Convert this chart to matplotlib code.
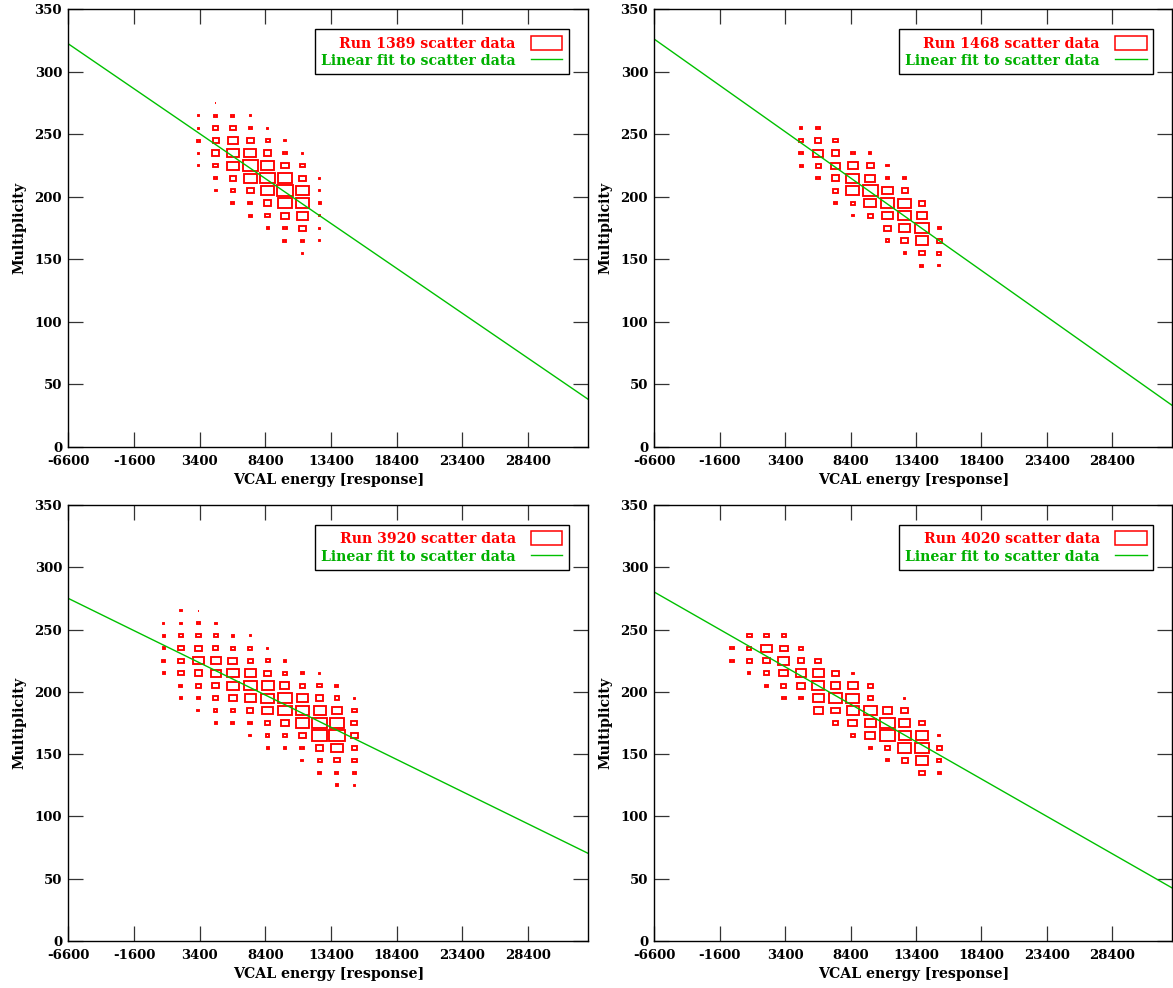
"""Multiplicity vs VCAL energy scatter (box) plots with linear fits, four runs."""

import matplotlib
matplotlib.use("Agg")
import matplotlib.pyplot as plt
from matplotlib.lines import Line2D
from matplotlib.patches import Patch, Rectangle

# bin centres shared by all runs (x: VCAL energy, y: multiplicity)
X_CENTRES = [-660, 660, 1980, 3300, 4620, 5940, 7260, 8580, 9900, 11220, 12540, 13860, 15180]
Y_CENTRES = [275, 265, 255, 245, 235, 225, 215, 205, 195, 185, 175, 165, 155, 145, 135, 125]
X_BIN = 1320
Y_BIN = 10

RUNS = [1389, 1468, 3920, 4020]

# relative box size per cell (0..10), rows follow Y_CENTRES, columns X_CENTRES
RUN_1389 = [
    [0, 0, 0, 0, .5, .5, 0, 0, 0, 0, 0, 0, 0],
    [0, 0, 0, 1, 2, 2, 1, 0, 0, 0, 0, 0, 0],
    [0, 0, 0, 1, 3, 3.5, 2, 1, 0, 0, 0, 0, 0],
    [0, 0, 0, 2, 4, 6.5, 4.5, 2.5, 1, 0, 0, 0, 0],
    [0, 0, 0, 1, 5, 8, 8, 5, 2.5, 1, 0, 0, 0],
    [0, 0, 0, 1, 3, 7.5, 10, 8.5, 5, 3, 0, 0, 0],
    [0, 0, 0, 0, 2, 4.5, 8.5, 9.5, 9, 4.5, 1, 0, 0],
    [0, 0, 0, 0, 1.5, 2.5, 5, 9, 10, 8.5, 1, 0, 0],
    [0, 0, 0, 0, 0, 2, 2.5, 5, 9, 9, 1.5, 0, 0],
    [0, 0, 0, 0, 0, 0, 2, 3, 5.5, 7.5, 1, 0, 0],
    [0, 0, 0, 0, 0, 0, 0, 1.5, 2.5, 4.5, 1, 0, 0],
    [0, 0, 0, 0, 0, 0, 0, 0, 2, 2, 1, 0, 0],
    [0, 0, 0, 0, 0, 0, 0, 0, 0, 1, 0, 0, 0],
    [0, 0, 0, 0, 0, 0, 0, 0, 0, 0, 0, 0, 0],
    [0, 0, 0, 0, 0, 0, 0, 0, 0, 0, 0, 0, 0],
    [0, 0, 0, 0, 0, 0, 0, 0, 0, 0, 0, 0, 0],
]

RUN_1468 = [
    [0, 0, 0, 0, 0, 0, 0, 0, 0, 0, 0, 0, 0],
    [0, 0, 0, 0, 0, 0, 0, 0, 0, 0, 0, 0, 0],
    [0, 0, 0, 0, 1.5, 2.5, 0, 0, 0, 0, 0, 0, 0],
    [0, 0, 0, 0, 3, 4, 3, 0, 0, 0, 0, 0, 0],
    [0, 0, 0, 0, 2.5, 6.5, 5, 2.5, 1.5, 0, 0, 0, 0],
    [0, 0, 0, 0, 2, 3.5, 5.5, 7, 4.5, 1.5, 0, 0, 0],
    [0, 0, 0, 0, 0, 2.5, 5, 8.5, 6.5, 2.5, 2, 0, 0],
    [0, 0, 0, 0, 0, 0, 3.5, 8.5, 10, 7, 4, 0, 0],
    [0, 0, 0, 0, 0, 0, 2, 3, 8, 9, 8.5, 4.5, 0],
    [0, 0, 0, 0, 0, 0, 0, 1, 3.5, 7, 8.5, 6.5, 0],
    [0, 0, 0, 0, 0, 0, 0, 0, 0, 4.5, 7.5, 9, 2],
    [0, 0, 0, 0, 0, 0, 0, 0, 0, 2.5, 4.5, 8.5, 3.5],
    [0, 0, 0, 0, 0, 0, 0, 0, 0, 0, 1.5, 4, 3],
    [0, 0, 0, 0, 0, 0, 0, 0, 0, 0, 0, 2, 1.5],
    [0, 0, 0, 0, 0, 0, 0, 0, 0, 0, 0, 0, 0],
    [0, 0, 0, 0, 0, 0, 0, 0, 0, 0, 0, 0, 0],
]

RUN_3920 = [
    [0, 0, 0, 0, 0, 0, 0, 0, 0, 0, 0, 0, 0],
    [0, 0, 1, .5, 0, 0, 0, 0, 0, 0, 0, 0, 0],
    [0, 1, 1.5, 2, 1.5, 0, 0, 0, 0, 0, 0, 0, 0],
    [0, 1.5, 2.5, 3, 2.5, 1.5, 1, 0, 0, 0, 0, 0, 0],
    [0, 1.5, 4, 5, 3.5, 3, 2.5, 1, 0, 0, 0, 0, 0],
    [0, 2, 4, 7, 6.5, 6, 3.5, 2.5, 1.5, 0, 0, 0, 0],
    [0, 1.5, 3.5, 5, 6.5, 7.5, 7, 4.5, 3, 2, 1, 0, 0],
    [0, 0, 2, 3.5, 5, 7.5, 8.5, 8, 6, 3.5, 3, 2, 0],
    [0, 0, 1.5, 2, 3, 5, 7, 8.5, 9, 7, 5, 3, 1],
    [0, 0, 0, 1.5, 2, 2.5, 4, 7, 9, 8.5, 8, 6.5, 3],
    [0, 0, 0, 0, 1.5, 2, 2.5, 3.5, 5.5, 8.5, 10, 9.5, 4],
    [0, 0, 0, 0, 0, 0, 1.5, 2, 3, 5, 10, 10, 4.5],
    [0, 0, 0, 0, 0, 0, 0, 1.5, 1.5, 2.5, 5, 7.5, 3.5],
    [0, 0, 0, 0, 0, 0, 0, 0, 0, 1.5, 2.5, 3.5, 3],
    [0, 0, 0, 0, 0, 0, 0, 0, 0, 0, 2, 2, 2],
    [0, 0, 0, 0, 0, 0, 0, 0, 0, 0, 0, 1.5, .5],
]

RUN_4020 = [
    [0, 0, 0, 0, 0, 0, 0, 0, 0, 0, 0, 0, 0],
    [0, 0, 0, 0, 0, 0, 0, 0, 0, 0, 0, 0, 0],
    [0, 0, 0, 0, 0, 0, 0, 0, 0, 0, 0, 0, 0],
    [0, 3, 3, 2.5, 0, 0, 0, 0, 0, 0, 0, 0, 0],
    [2, 2.5, 7, 5, 2.5, 0, 0, 0, 0, 0, 0, 0, 0],
    [2, 3.5, 5, 7.5, 4.5, 4, 0, 0, 0, 0, 0, 0, 0],
    [0, 1.5, 3.5, 6, 7, 7, 4.5, 1, 0, 0, 0, 0, 0],
    [0, 0, 2, 3.5, 5.5, 8, 6.5, 6.5, 3.5, 0, 0, 0, 0],
    [0, 0, 0, 2.5, 2.5, 7, 9, 8.5, 3.5, 0, 1, 0, 0],
    [0, 0, 0, 0, 0, 6, 5.5, 8, 8.5, 6, 5, 0, 0],
    [0, 0, 0, 0, 0, 0, 3.5, 6, 7.5, 10, 7.5, 4, 0],
    [0, 0, 0, 0, 0, 0, 0, 2.5, 6.5, 9.5, 8, 8.5, 1.5],
    [0, 0, 0, 0, 0, 0, 0, 0, 2, 3.5, 9, 9, 3.5],
    [0, 0, 0, 0, 0, 0, 0, 0, 0, 2, 4, 8, 3],
    [0, 0, 0, 0, 0, 0, 0, 0, 0, 0, 0, 4, 2],
    [0, 0, 0, 0, 0, 0, 0, 0, 0, 0, 0, 0, 0],
]

GRIDS = [RUN_1389, RUN_1468, RUN_3920, RUN_4020]

# linear fit: multiplicity = intercept + slope * energy
FIT_INTERCEPT = [275.0, 277.3, 240.9, 240.5]
FIT_SLOPE = [-0.00718, -0.007397, -0.00517, -0.00600]

X_RANGE = (-6600, 33000)
Y_RANGE = (0, 350)
X_TICKS = [-6600, -1600, 3400, 8400, 13400, 18400, 23400, 28400]
Y_TICKS = [0, 50, 100, 150, 200, 250, 300, 350]

RED = "#ff0000"
GREEN = "#00c000"
TICK_FONT = dict(family="DejaVu Serif", weight="bold", size=9.5)
LABEL_FONT = dict(family="DejaVu Serif", weight="bold", size=10.2)

W, H = 1173, 988
# axes boxes in pixels: left, top, right, bottom
PANELS = [
    (68.3, 9.3, 588.3, 447),
    (654.3, 9.3, 1172.3, 447),
    (68.3, 505, 588.3, 941),
    (654.3, 505, 1172.3, 941),
]

fig = plt.figure(figsize=(W / 100, H / 100), dpi=100)

for i, run in enumerate(RUNS):
    l, t, r, b = PANELS[i]
    ax = fig.add_axes([l / W, 1 - b / H, (r - l) / W, (b - t) / H])

    grid = GRIDS[i]
    for yi, yc in enumerate(Y_CENTRES):
        for xi, xc in enumerate(X_CENTRES):
            s = grid[yi][xi]
            if s <= 0:
                continue
            w = s / 10 * 0.87 * X_BIN
            h = s / 10 * 0.86 * Y_BIN
            ax.add_patch(Rectangle((xc - w / 2, yc - h / 2), w, h, fill=False,
                                   edgecolor=RED, linewidth=1.35))

    xs = list(X_RANGE)
    ys = [FIT_INTERCEPT[i] + FIT_SLOPE[i] * x for x in xs]
    ax.plot(xs, ys, color=GREEN, linewidth=1.0)

    ax.set_xlim(*X_RANGE)
    ax.set_ylim(*Y_RANGE)
    ax.set_xticks(X_TICKS)
    ax.set_yticks(Y_TICKS)
    ax.set_xticklabels([str(v) for v in X_TICKS], fontdict=TICK_FONT)
    ax.set_yticklabels([str(v) for v in Y_TICKS], fontdict=TICK_FONT)
    ax.tick_params(direction="in", length=10.8, width=0.9, color="#333333",
                   top=True, right=True)
    ax.tick_params(axis="x", pad=6)
    ax.tick_params(axis="y", pad=4.5)
    for sp in ax.spines.values():
        sp.set_linewidth(1.0)
        sp.set_color("black")
    ax.set_xlabel("VCAL energy [response]", fontdict=LABEL_FONT, labelpad=3)
    ax.set_ylabel("Multiplicity", fontdict=LABEL_FONT, labelpad=6)

    handles = [
        Patch(facecolor="none", edgecolor=RED, linewidth=1.1),
        Line2D([], [], color=GREEN, linewidth=1.0),
    ]
    leg = ax.legend(
        handles,
        [f"Run {run} scatter data", "Linear fit to scatter data"],
        loc="upper right",
        bbox_to_anchor=(0.9625, 0.954),
        borderaxespad=0,
        markerfirst=False,
        handlelength=2.2,
        handleheight=1.15,
        handletextpad=1.1,
        labelspacing=0.18,
        borderpad=0.45,
        fancybox=False,
        framealpha=1,
        edgecolor="black",
        labelcolor=[RED, "#00b000"],
        prop=dict(family="DejaVu Serif", weight="bold", size=10.2),
    )
    leg.get_frame().set_linewidth(1.0)

fig.savefig("out.png", dpi=100)
